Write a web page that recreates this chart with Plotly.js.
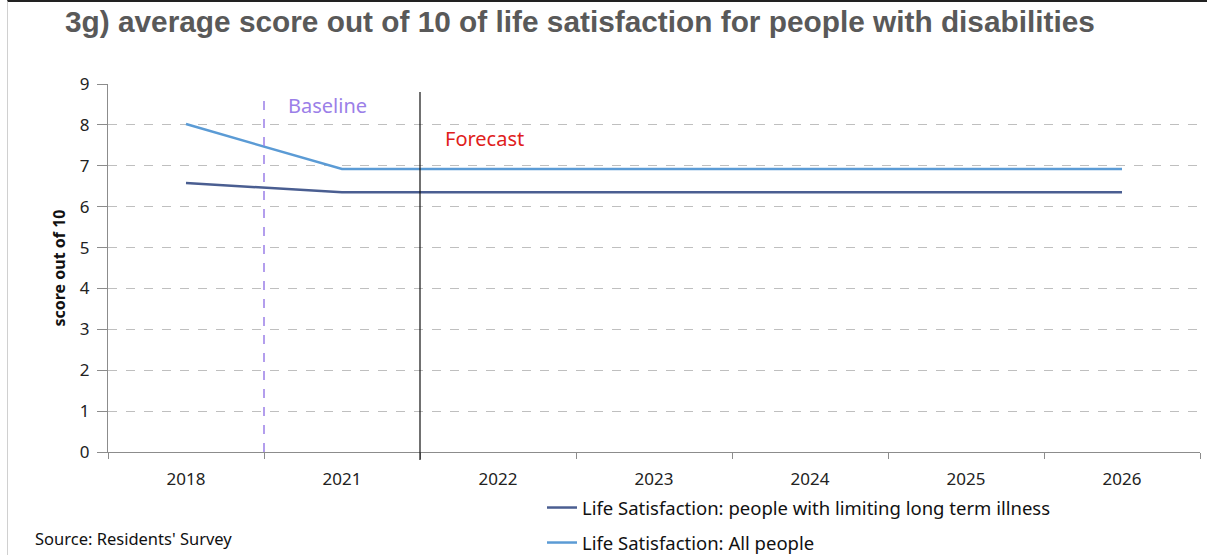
<!DOCTYPE html>
<html><head><meta charset="utf-8">
<script src="https://cdn.plot.ly/plotly-3.0.1.min.js"></script>
<style>html,body{margin:0;padding:0;background:#fff;}#chart{width:1207px;height:555px;}
#frame{position:absolute;left:7px;top:0;width:1200px;height:555px;border-left:1px solid #d0d0d0;border-top:2px solid #222;pointer-events:none;box-sizing:border-box;}</style>
</head><body>
<div id="chart"></div>
<div id="frame"></div>
<script>
const categories = ['2018','2021','2022','2023','2024','2025','2026'];
const illness = [6.58, 6.35, 6.35, 6.35, 6.35, 6.35, 6.35];
const allPeople = [8.02, 6.92, 6.92, 6.92, 6.92, 6.92, 6.92];
const seriesNames = ['Life Satisfaction: people with limiting long term illness', 'Life Satisfaction: All people'];
const yTicks = [0,1,2,3,4,5,6,7,8,9];

const font = 'Noto Sans, Open Sans, sans-serif';
const W = 1207, H = 555;
const L = 108, R = 7, T = 84, B = 103;
const PW = W - L - R, PH = H - T - B;
const px = v => (v - L) / PW;          // pixel x -> paper x
const py = v => (H - B - v) / PH;      // pixel y -> paper y

const traces = [
  {x: categories, y: illness, name: seriesNames[0], type: 'scatter', mode: 'lines',
   line: {color: '#4a5e91', width: 2.5}, legend: 'legend'},
  {x: categories, y: allPeople, name: seriesNames[1], type: 'scatter', mode: 'lines',
   line: {color: '#5b9bd5', width: 2.5}, legend: 'legend2'}
];
const legendBase = {xanchor: 'left', yanchor: 'middle', orientation: 'v',
  font: {family: font, size: 18.5, color: '#111'}, bgcolor: 'rgba(0,0,0,0)', itemwidth: 30};
const layout = {
  width: W, height: H,
  margin: {l: L, r: R, t: T, b: B, autoexpand: false},
  paper_bgcolor: '#fff', plot_bgcolor: '#fff',
  font: {family: font, color: '#222'},
  title: {text: '3g) average score out of 10 of life satisfaction for people with disabilities',
    font: {family: 'Liberation Sans, Arial, sans-serif', size: 29.8, color: '#595959', weight: 'bold'},
    x: 65/W, xanchor: 'left', xref: 'container', yref: 'container', y: 1 - 22/H, yanchor: 'middle'},
  xaxis: {type: 'category', range: [-0.5, 6.5], showgrid: false, showline: true, linecolor: '#8c8c8c', linewidth: 1,
    ticks: 'outside', tickson: 'boundaries', ticklen: 6, tickcolor: '#8c8c8c', ticklabelstandoff: 12,
    tickfont: {family: font, size: 17, color: '#222'}, fixedrange: true},
  yaxis: {range: [0, 9], tickvals: yTicks, showgrid: true, gridcolor: '#bfbfbf', griddash: 'dash', gridwidth: 1,
    showline: true, linecolor: '#8c8c8c', linewidth: 1, ticks: 'outside', ticklen: 10, tickcolor: '#8c8c8c',
    ticklabelstandoff: 4,
    zeroline: false, tickfont: {family: font, size: 17, color: '#222'},
    title: {text: '<b>score out of 10</b>', font: {family: font, size: 16, color: '#111'}, standoff: 10}},
  showlegend: true,
  legend: Object.assign({}, legendBase, {x: px(542), y: py(508)}),
  legend2: Object.assign({}, legendBase, {x: px(542), y: py(543)}),
  shapes: [
    {type: 'line', xref: 'x', yref: 'paper', x0: 0.5, x1: 0.5, y0: 0, y1: py(92),
     line: {color: '#9b7fe8', width: 1.5, dash: 'dash'}},
    {type: 'line', xref: 'x', yref: 'paper', x0: 1.5, x1: 1.5, y0: py(460), y1: py(92),
     line: {color: '#111', width: 1.2}}
  ],
  annotations: [
    {text: 'Baseline', xref: 'paper', yref: 'paper', x: px(286), y: py(105), xanchor: 'left', yanchor: 'middle',
     showarrow: false, font: {family: font, size: 20, color: '#9b7fe8'}},
    {text: 'Forecast', xref: 'paper', yref: 'paper', x: px(443), y: py(138), xanchor: 'left', yanchor: 'middle',
     showarrow: false, font: {family: font, size: 20, color: '#e0201b'}},
    {text: "Source: Residents' Survey", xref: 'paper', yref: 'paper', x: px(33), y: py(538), xanchor: 'left', yanchor: 'middle',
     showarrow: false, font: {family: font, size: 16.5, color: '#111'}}
  ]
};
Plotly.newPlot('chart', traces, layout, {displayModeBar: false, staticPlot: true});
</script>
</body></html>
